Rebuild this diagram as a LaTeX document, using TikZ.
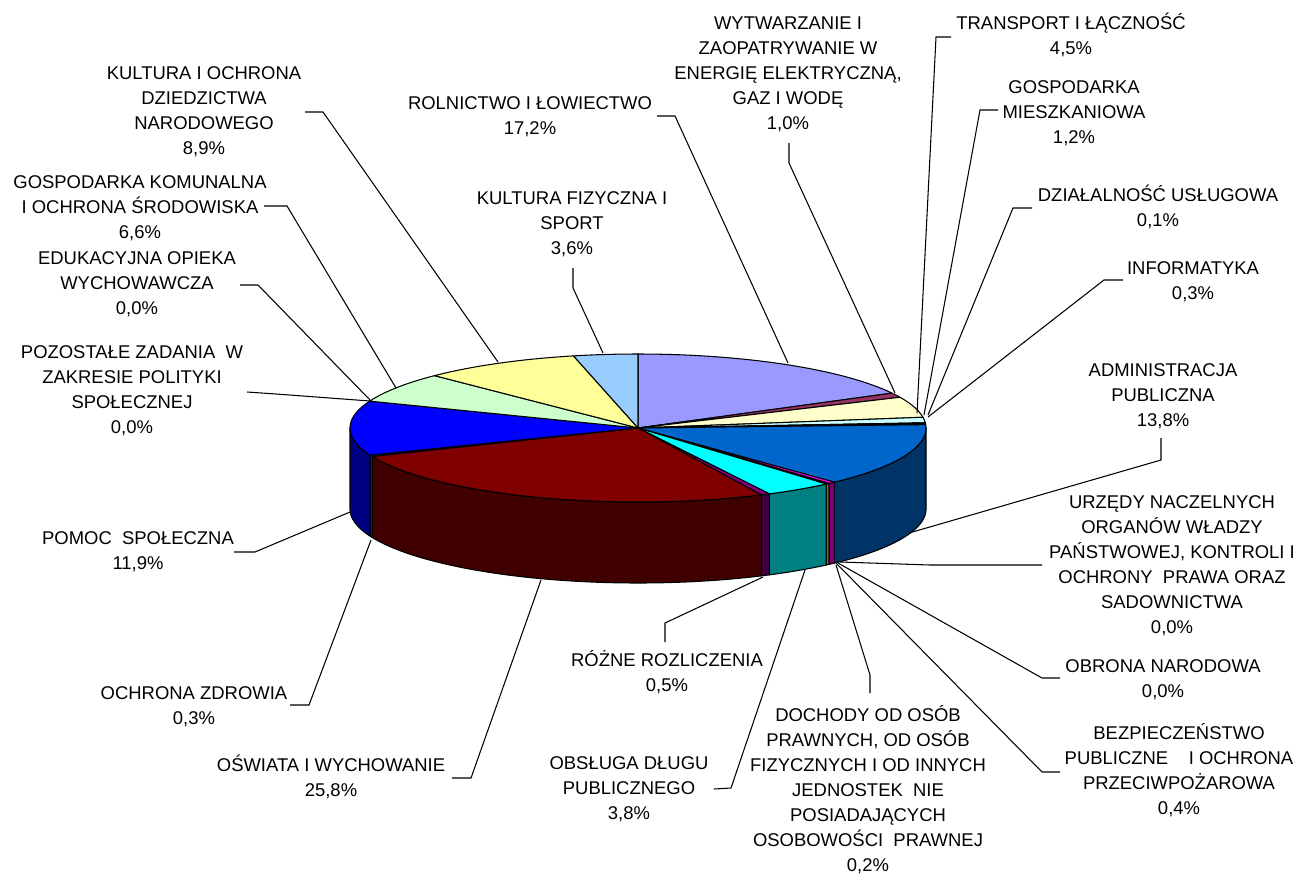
\documentclass[tikz,border=0pt]{standalone}
\usepackage{fontspec}
\setmainfont{Liberation Sans}
\definecolor{cRoln}{HTML}{9999FF}
\definecolor{cWytw}{HTML}{993366}
\definecolor{cTrans}{HTML}{FFFFCC}
\definecolor{cMieszk}{HTML}{CCFFFF}
\definecolor{cDzial}{HTML}{660066}
\definecolor{cInform}{HTML}{FF8080}
\definecolor{cAdmin}{HTML}{0066CC}
\definecolor{cAdminS}{HTML}{003366}
\definecolor{cBezp}{HTML}{FF00FF}
\definecolor{cBezpS}{HTML}{800080}
\definecolor{cDoch}{HTML}{FFFF00}
\definecolor{cDochS}{HTML}{808000}
\definecolor{cObsl}{HTML}{00FFFF}
\definecolor{cObslS}{HTML}{008080}
\definecolor{cRozne}{HTML}{800080}
\definecolor{cRozneS}{HTML}{400040}
\definecolor{cOsw}{HTML}{800000}
\definecolor{cOswS}{HTML}{400000}
\definecolor{cOchr}{HTML}{008080}
\definecolor{cOchrS}{HTML}{004040}
\definecolor{cPomoc}{HTML}{0000FF}
\definecolor{cPomocS}{HTML}{000080}
\definecolor{cKomun}{HTML}{CCFFCC}
\definecolor{cKult}{HTML}{FFFF99}
\definecolor{cKfiz}{HTML}{99CCFF}
\def\pcx{638}\def\pcy{428}\def\prx{288}\def\pry{74}\def\pdep{81}
\newcommand{\PieTop}[3]{\filldraw[pieedge,fill=#3] (\pcx,\pcy) -- plot[domain=#1:#2,samples=60] ({\pcx+\prx*cos(\x)},{\pcy+\pry*sin(\x)}) -- cycle;}
\newcommand{\PieSide}[3]{\filldraw[pieedge,fill=#3] plot[domain=#1:#2,samples=60] ({\pcx+\prx*cos(\x)},{\pcy+\pry*sin(\x)}) -- plot[domain=#2:#1,samples=60] ({\pcx+\prx*cos(\x)},{\pcy+\pry*sin(\x)+\pdep}) -- cycle;}
\begin{document}
\begin{tikzpicture}[x=0.02cm,y=-0.02cm,
  pieedge/.style={draw=black,line width=0.6pt,line join=round},
  leader/.style={draw=black,line width=0.6pt},
  lbl/.style={font=\fontsize{10.5}{14.17}\selectfont,align=center,inner sep=0pt,anchor=north}]
\useasboundingbox[fill=white] (0,0) rectangle (1300,876);
% ---- pie sides (front half)
\PieSide{0}{47.023}{cAdminS}
\PieSide{47.023}{48.462}{cBezpS}
\PieSide{48.462}{49.181}{cDochS}
\PieSide{49.181}{62.847}{cObslS}
\PieSide{62.847}{64.645}{cRozneS}
\PieSide{64.645}{157.433}{cOswS}
\PieSide{157.433}{158.511}{cOchrS}
\PieSide{158.511}{180}{cPomocS}
% ---- pie top
\PieTop{-90}{-28.142}{cRoln}
\PieTop{-28.142}{-24.545}{cWytw}
\PieTop{-24.545}{-8.362}{cTrans}
\PieTop{-8.362}{-4.046}{cMieszk}
\PieTop{-4.046}{-3.686}{cDzial}
\PieTop{-3.686}{-2.607}{cInform}
\PieTop{-2.607}{47.023}{cAdmin}
\PieTop{47.023}{48.462}{cBezp}
\PieTop{48.462}{49.181}{cDoch}
\PieTop{49.181}{62.847}{cObsl}
\PieTop{62.847}{64.645}{cRozne}
\PieTop{64.645}{157.433}{cOsw}
\PieTop{157.433}{158.511}{cOchr}
\PieTop{158.511}{201.309}{cPomoc}
\PieTop{201.309}{225.045}{cKomun}
\PieTop{225.045}{257.053}{cKult}
\PieTop{257.053}{270}{cKfiz}
% ---- labels
\node[lbl] (kult) at (204,62) {\strut KULTURA I OCHRONA\\DZIEDZICTWA\\NARODOWEGO\\8,9\%};
\node[lbl] (komun) at (140,171) {\strut GOSPODARKA KOMUNALNA\\I OCHRONA ŚRODOWISKA\\6,6\%};
\node[lbl] (edu) at (137,247) {\strut EDUKACYJNA OPIEKA\\WYCHOWAWCZA\\0,0\%};
\node[lbl] (poz) at (132,341) {\strut POZOSTAŁE ZADANIA~ W\\ZAKRESIE POLITYKI\\SPOŁECZNEJ\\0,0\%};
\node[lbl] (pomoc) at (138,527) {\strut POMOC~ SPOŁECZNA\\11,9\%};
\node[lbl] (ochr) at (194,682) {\strut OCHRONA ZDROWIA\\0,3\%};
\node[lbl] (osw) at (331,754) {\strut OŚWIATA I WYCHOWANIE\\25,8\%};
\node[lbl] (obsl) at (629,752) {\strut OBSŁUGA DŁUGU\\PUBLICZNEGO\\3,8\%};
\node[lbl] (rozne) at (667,649) {\strut RÓŻNE ROZLICZENIA\\0,5\%};
\node[lbl] (doch) at (868,704) {\strut DOCHODY OD OSÓB\\PRAWNYCH, OD OSÓB\\FIZYCZNYCH I OD INNYCH\\JEDNOSTEK~ NIE\\POSIADAJĄCYCH\\OSOBOWOŚCI~ PRAWNEJ\\0,2\%};
\node[lbl] (bezp) at (1179,722) {\strut BEZPIECZEŃSTWO\\PUBLICZNE~ ~ I OCHRONA\\PRZECIWPOŻAROWA\\0,4\%};
\node[lbl] (obr) at (1163,655) {\strut OBRONA NARODOWA\\0,0\%};
\node[lbl] (urz) at (1172,491) {\strut URZĘDY NACZELNYCH\\ORGANÓW WŁADZY\\PAŃSTWOWEJ, KONTROLI I\\OCHRONY~ PRAWA ORAZ\\SADOWNICTWA\\0,0\%};
\node[lbl] (admin) at (1163,359) {\strut ADMINISTRACJA\\PUBLICZNA\\13,8\%};
\node[lbl] (inform) at (1193,257) {\strut INFORMATYKA\\0,3\%};
\node[lbl] (dzial) at (1158,184) {\strut DZIAŁALNOŚĆ USŁUGOWA\\0,1\%};
\node[lbl] (mieszk) at (1074,76) {\strut GOSPODARKA\\MIESZKANIOWA\\1,2\%};
\node[lbl] (trans) at (1071,12) {\strut TRANSPORT I ŁĄCZNOŚĆ\\4,5\%};
\node[lbl] (wytw) at (788,12) {\strut WYTWARZANIE I\\ZAOPATRYWANIE W\\ENERGIĘ ELEKTRYCZNĄ,\\GAZ I WODĘ\\1,0\%};
\node[lbl] (roln) at (530,92) {\strut ROLNICTWO I ŁOWIECTWO\\17,2\%};
\node[lbl] (kfiz) at (572,187) {\strut KULTURA FIZYCZNA I\\SPORT\\3,6\%};
% ---- leader coordinates
\coordinate (kult-s) at (305,112);   \coordinate (kult-e) at (498,362);
\coordinate (komun-s) at (264,206);  \coordinate (komun-e) at (396,388);
\coordinate (edu-s) at (240,285);    \coordinate (edu-e) at (370,400);
\coordinate (poz-s) at (247,392);    \coordinate (poz-e) at (370,401);
\coordinate (pomoc-s) at (234,552);  \coordinate (pomoc-e) at (350,512);
\coordinate (ochr-s) at (290,705);   \coordinate (ochr-e) at (371,540);
\coordinate (osw-s) at (452,778);    \coordinate (osw-e) at (541,580);
\coordinate (obsl-s) at (714,789);   \coordinate (obsl-e) at (805,570);
\coordinate (rozne-s) at (665,642);  \coordinate (rozne-e) at (763,577);
\coordinate (doch-s) at (870,693);   \coordinate (doch-e) at (836,565);
\coordinate (bezp-s) at (1060,772);  \coordinate (bezp-e) at (836,563);
\coordinate (obr-s) at (1060,678);   \coordinate (obr-e) at (838,563);
\coordinate (urz-s) at (1042,565);   \coordinate (urz-e) at (840,562);
\coordinate (admin-s) at (1161,438); \coordinate (admin-e) at (909,533);
\coordinate (inform-s) at (1123,280);\coordinate (inform-e) at (928,417);
\coordinate (dzial-s) at (1032,208); \coordinate (dzial-e) at (928,415);
\coordinate (mieszk-s) at (998,110); \coordinate (mieszk-e) at (924,415);
\coordinate (trans-s) at (951,37);   \coordinate (trans-e) at (917,413);
\coordinate (wytw-s) at (789,143);   \coordinate (wytw-e) at (895,393);
\coordinate (roln-s) at (657,116);   \coordinate (roln-e) at (788,363);
\coordinate (kfiz-s) at (573,268);   \coordinate (kfiz-e) at (603,353);
% ---- leaders
\draw[leader] (kult-s) -- ++(18,0) -- (kult-e);
\draw[leader] (komun-s) -- ++(23,0) -- (komun-e);
\draw[leader] (edu-s) -- ++(18,0) -- (edu-e);
\draw[leader] (poz-s) -- ++(29,2) -- (poz-e);
\draw[leader] (pomoc-s) -- ++(21,0) -- (pomoc-e);
\draw[leader] (ochr-s) -- ++(19,0) -- (ochr-e);
\draw[leader] (osw-s) -- ++(19,0) -- (osw-e);
\draw[leader] (obsl-s) -- ++(17,-1) -- (obsl-e);
\draw[leader] (rozne-s) -- ++(0,-19) -- (rozne-e);
\draw[leader] (doch-s) -- ++(0,-18) -- (doch-e);
\draw[leader] (bezp-s) -- ++(-18,0) -- (bezp-e);
\draw[leader] (obr-s) -- ++(-18,0) -- (obr-e);
\draw[leader] (urz-s) -- ++(-112,0) -- (urz-e);
\draw[leader] (admin-s) -- ++(0,22) -- (admin-e);
\draw[leader] (inform-s) -- ++(-19,0) -- (inform-e);
\draw[leader] (dzial-s) -- ++(-19,0) -- (dzial-e);
\draw[leader] (mieszk-s) -- ++(-18,0) -- (mieszk-e);
\draw[leader] (trans-s) -- ++(-15,0) -- (trans-e);
\draw[leader] (wytw-s) -- ++(0,20) -- (wytw-e);
\draw[leader] (roln-s) -- ++(18,0) -- (roln-e);
\draw[leader] (kfiz-s) -- ++(0,20) -- (kfiz-e);
\end{tikzpicture}
\end{document}
